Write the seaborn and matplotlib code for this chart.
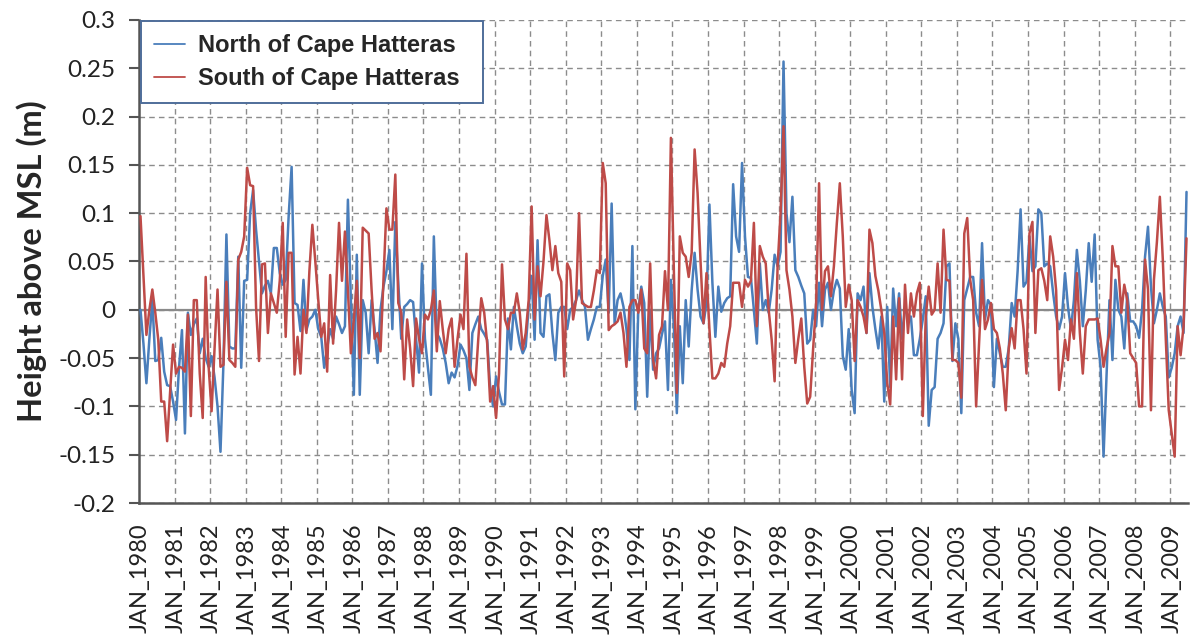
import numpy as np
import pandas as pd
import matplotlib
matplotlib.use("Agg")
import matplotlib.pyplot as plt
from matplotlib.lines import Line2D
import seaborn as sns

# Monthly mean sea-level anomaly (m), January 1980 - June 2009
north_1980s = [
    0.0, -0.035, -0.076, -0.03, 0.01, -0.053, -0.052, -0.029, -0.064, -0.078, -0.079, -0.095,
    -0.114, -0.06, -0.021, -0.128, -0.003, -0.026, -0.015, -0.009, -0.045, -0.03, -0.05, -0.059,
    -0.048, -0.07, -0.1, -0.147, -0.055, 0.078, -0.038, -0.04, -0.04, 0.055, -0.06, 0.03,
    0.031, 0.1, 0.124, 0.083, 0.05, 0.017, 0.025, 0.03, 0.017, 0.064, 0.064, 0.038,
    0.026, 0.031, 0.097, 0.148, 0.007, 0.005, -0.022, 0.031, -0.021, -0.01, -0.007, 0.0,
    -0.02, -0.028, -0.06, -0.04, -0.02, -0.03, -0.007, -0.015, -0.024, -0.017, 0.114, 0.01,
    -0.088, 0.057, -0.088, 0.01, -0.003, -0.045, 0.01, -0.02, -0.055, 0.0, 0.024, 0.04,
    0.062, -0.02, 0.091, 0.028, -0.03, 0.003, 0.006, 0.01, 0.008, -0.03, -0.065, 0.048,
    -0.03, -0.06, -0.088, 0.076, -0.024, -0.03, -0.04, -0.055, -0.076, -0.065, -0.07, -0.058,
    -0.036, -0.042, -0.05, -0.083, -0.024, -0.015, -0.007, -0.02, -0.025, -0.031, -0.08, -0.1,
]
north_1990s = [
    -0.069, -0.085, -0.098, -0.098, -0.009, -0.041, 0.003, -0.017, -0.035, -0.045, -0.038, 0.003,
    0.035, -0.031, 0.072, -0.024, -0.028, 0.014, 0.016, -0.024, -0.052, -0.003, 0.003, 0.003,
    -0.02, 0.0, 0.003, 0.01, 0.02, 0.01, 0.003, -0.031, -0.02, -0.01, 0.003, 0.003,
    0.035, 0.052, -0.003, 0.11, -0.014, 0.01, 0.017, 0.003, -0.02, -0.052, 0.066, -0.103,
    0.0, 0.024, 0.007, -0.09, 0.0, -0.062, -0.045, -0.04, -0.025, -0.012, -0.083, 0.031,
    -0.017, -0.107, -0.017, -0.076, 0.01, -0.038, 0.02, 0.059, 0.021, -0.007, -0.014, 0.007,
    0.109, 0.028, -0.028, 0.024, -0.002, 0.007, 0.012, 0.014, 0.13, 0.076, 0.06, 0.152,
    0.076, 0.034, 0.033, 0.0, -0.035, 0.048, 0.0, 0.01, -0.003, 0.021, 0.057, 0.045,
    0.06, 0.257, 0.1, 0.07, 0.117, 0.041, 0.034, 0.025, 0.017, -0.035, -0.031, 0.0,
    -0.017, 0.028, -0.017, 0.021, 0.028, 0.0, 0.02, 0.031, 0.022, -0.048, -0.062, -0.02,
]
north_2000s = [
    -0.083, -0.107, 0.017, 0.01, 0.024, -0.024, 0.038, 0.003, -0.02, -0.04, -0.007, -0.095,
    0.003, -0.08, 0.022, -0.017, 0.017, -0.03, 0.003, -0.007, -0.007, -0.047, -0.047, -0.03,
    -0.01, 0.014, -0.12, -0.083, -0.08, -0.03, -0.024, -0.014, 0.045, 0.048, -0.053, -0.014,
    -0.03, -0.107, 0.01, 0.022, 0.034, 0.034, -0.003, -0.017, 0.069, -0.01, 0.01, 0.005,
    -0.08, -0.03, -0.045, -0.059, -0.059, -0.04, 0.007, -0.007, 0.04, 0.104, 0.024, 0.029,
    0.076, 0.04, 0.045, 0.104, 0.1, 0.045, 0.048, 0.045, 0.017, -0.007, -0.02, -0.007,
    0.038, 0.003, -0.02, 0.01, 0.062, 0.03, -0.017, 0.02, 0.069, 0.029, 0.078, -0.031,
    -0.059, -0.152, -0.069, 0.01, -0.052, 0.031, 0.0, -0.007, -0.04, 0.017, -0.012, -0.012,
    -0.017, -0.029, 0.0, 0.055, 0.086, 0.024, -0.014, 0.0, 0.017, 0.003, -0.007, -0.07,
    -0.06, -0.045, -0.017, -0.007, -0.024, 0.122,
]

south_1980s = [
    0.097, 0.035, -0.026, 0.0, 0.021, -0.003, -0.031, -0.095, -0.095, -0.136, -0.085, -0.036,
    -0.066, -0.059, -0.06, -0.064, -0.005, -0.11, 0.01, 0.01, -0.066, -0.112, 0.034, -0.059,
    -0.105, -0.04, 0.021, -0.059, -0.057, 0.029, -0.052, -0.055, -0.059, 0.052, 0.06, 0.076,
    0.147, 0.129, 0.128, 0.003, -0.053, 0.047, 0.048, -0.024, 0.017, 0.007, -0.003, 0.03,
    0.09, -0.028, 0.059, 0.059, -0.067, -0.028, -0.066, 0.0, -0.024, 0.04, 0.088, 0.05,
    0.01, -0.028, -0.014, -0.064, 0.036, -0.035, 0.02, 0.09, 0.03, 0.081, 0.02, -0.045,
    -0.01, 0.03, -0.05, 0.085, 0.082, 0.079, 0.02, -0.03, -0.024, -0.043, 0.03, 0.105,
    0.083, 0.083, 0.14, 0.007, -0.003, -0.072, -0.01, -0.04, -0.079, -0.009, -0.03, -0.045,
    -0.005, -0.01, 0.0, 0.02, -0.043, 0.009, -0.02, -0.045, -0.02, -0.009, -0.059, -0.03,
    -0.005, -0.02, 0.058, -0.059, -0.07, -0.078, -0.03, 0.012, -0.003, -0.035, -0.095, -0.079,
]
south_1990s = [
    -0.112, -0.066, 0.047, -0.01, -0.02, -0.003, -0.003, 0.017, -0.003, -0.041, -0.024, 0.01,
    0.107, -0.01, 0.045, 0.014, 0.05, 0.098, 0.072, 0.041, 0.066, 0.038, 0.029, -0.069,
    0.048, 0.041, -0.01, 0.01, 0.1, 0.007, 0.005, 0.003, 0.003, 0.02, 0.041, 0.038,
    0.152, 0.131, -0.021, -0.017, -0.015, -0.012, -0.003, -0.024, -0.059, 0.003, 0.01, 0.01,
    -0.003, 0.021, -0.04, -0.045, 0.048, -0.052, -0.071, -0.026, -0.017, 0.04, 0.0, 0.178,
    0.04, -0.086, 0.076, 0.059, 0.055, 0.034, 0.059, 0.166, 0.121, 0.05, -0.014, 0.038,
    -0.02, -0.071, -0.071, -0.066, -0.055, -0.059, -0.035, -0.017, 0.028, 0.028, 0.028, 0.003,
    0.031, 0.024, 0.03, 0.09, -0.017, 0.066, 0.055, 0.048, 0.0, -0.031, -0.074, 0.045,
    0.1, 0.19, 0.041, 0.021, -0.007, -0.055, -0.03, -0.009, -0.059, -0.097, -0.09, -0.04,
    0.007, 0.131, 0.0, 0.04, 0.045, 0.014, 0.045, 0.09, 0.131, 0.076, 0.003, 0.026,
]
south_2000s = [
    0.01, -0.053, 0.01, 0.003, -0.007, -0.024, 0.083, 0.069, 0.035, 0.02, 0.0, -0.024,
    -0.076, -0.098, -0.007, -0.072, 0.012, -0.072, 0.026, -0.024, 0.017, -0.007, 0.017, 0.028,
    -0.11, -0.007, 0.024, -0.005, 0.0, 0.048, -0.003, 0.083, 0.031, 0.03, -0.052, -0.052,
    -0.055, -0.091, 0.079, 0.095, 0.031, 0.01, -0.1, -0.035, 0.031, -0.02, -0.01, 0.007,
    -0.02, -0.024, -0.04, -0.066, -0.104, -0.04, -0.019, -0.04, 0.01, 0.01, -0.02, -0.066,
    0.079, 0.091, -0.024, 0.041, 0.043, 0.03, 0.01, 0.076, 0.055, 0.02, -0.083, -0.06,
    -0.031, -0.052, -0.01, -0.03, 0.038, -0.024, -0.066, -0.017, -0.01, -0.01, -0.01, -0.009,
    -0.031, -0.059, -0.04, -0.024, 0.066, 0.045, 0.045, -0.003, 0.026, 0.01, -0.045, -0.05,
    -0.055, -0.1, -0.1, 0.052, 0.021, -0.104, 0.031, 0.07, 0.117, 0.052, -0.03, -0.104,
    -0.128, -0.152, -0.017, -0.047, -0.017, 0.074,
]

north = north_1980s + north_1990s + north_2000s
south = south_1980s + south_1990s + south_2000s

series_names = ["North of Cape Hatteras", "South of Cape Hatteras"]
series_colors = ["#4a7ebb", "#be4b48"]
label_years = list(range(1980, 2010))
tick_labels = [f"JAN_{y}" for y in label_years]
y_ticks = [-0.2, -0.15, -0.1, -0.05, 0, 0.05, 0.1, 0.15, 0.2, 0.25, 0.3]
y_tick_labels = ["-0.2", "-0.15", "-0.1", "-0.05", "0", "0.05", "0.1", "0.15", "0.2", "0.25", "0.3"]

n = len(north)
month = np.arange(n)
df = pd.DataFrame({
    "month": np.concatenate([month, month]),
    "height": north + south,
    "series": [series_names[0]] * n + [series_names[1]] * n,
})

sns.set_style("white")
plt.rcParams["font.family"] = ["Lato", "DejaVu Sans"]

W, H = 1193, 638
fig = plt.figure(figsize=(W / 100, H / 100), dpi=100)
ax = fig.add_axes([139 / W, 1 - 503 / H, (1188 - 139) / W, (503 - 20) / H])

grid_kw = dict(color="#8c8c8c", linewidth=1.0, linestyle=(0, (4, 3)))

sns.lineplot(data=df, x="month", y="height", hue="series",
             hue_order=series_names, palette=series_colors,
             linewidth=1.8, sort=False, legend=False, ax=ax, zorder=3)

ax.set_xlim(-0.5, n - 0.5)
ax.set_ylim(-0.2, 0.3)

# year boundaries carry the vertical grid, January months carry the labels
boundaries = [12 * k - 0.5 for k in range(1, len(label_years))]
ax.set_xticks(boundaries)
ax.set_xticklabels([])
ax.set_xticks([12 * k for k in range(len(label_years))], minor=True)
ax.set_xticklabels(tick_labels, minor=True, rotation=90, fontsize=17, color="#222222")
ax.tick_params(axis="x", which="both", length=0, pad=15)
ax.xaxis.grid(True, which="major", **grid_kw)

ax.set_yticks(y_ticks)
ax.set_yticklabels(y_tick_labels, fontsize=17.5, color="#222222")
ax.tick_params(axis="y", which="major", length=7, width=1.5, color="#555555",
               direction="out", pad=10, left=True)
ax.yaxis.grid(True, **grid_kw)

ax.axhline(0, color="#8a8a8a", linewidth=1.6, zorder=2)

for side in ("top", "right"):
    ax.spines[side].set_visible(False)
for side in ("left", "bottom"):
    ax.spines[side].set_color("#555555")
    ax.spines[side].set_linewidth(1.8)

ax.set_xlabel("")
ax.set_ylabel("Height above MSL (m)", fontsize=23.5, fontweight="bold", labelpad=8)

handles = [Line2D([0], [0], color=c, linewidth=1.3) for c in series_colors]
leg = ax.legend(handles, series_names, loc="upper left", mode="expand",
                bbox_to_anchor=(141 / W, 1 - 102 / H, (483 - 141) / W, (102 - 21) / H),
                bbox_transform=fig.transFigure,
                borderaxespad=0, frameon=True, fancybox=False, framealpha=1,
                handlelength=1.3, handletextpad=0.55, borderpad=0.55, labelspacing=0.42,
                prop={"family": ["Liberation Sans"], "weight": "bold", "size": 17})
leg.get_frame().set_edgecolor("#4f6e9a")
leg.get_frame().set_linewidth(1.4)
leg.set_zorder(5)

fig.savefig("out.png", dpi=100)
